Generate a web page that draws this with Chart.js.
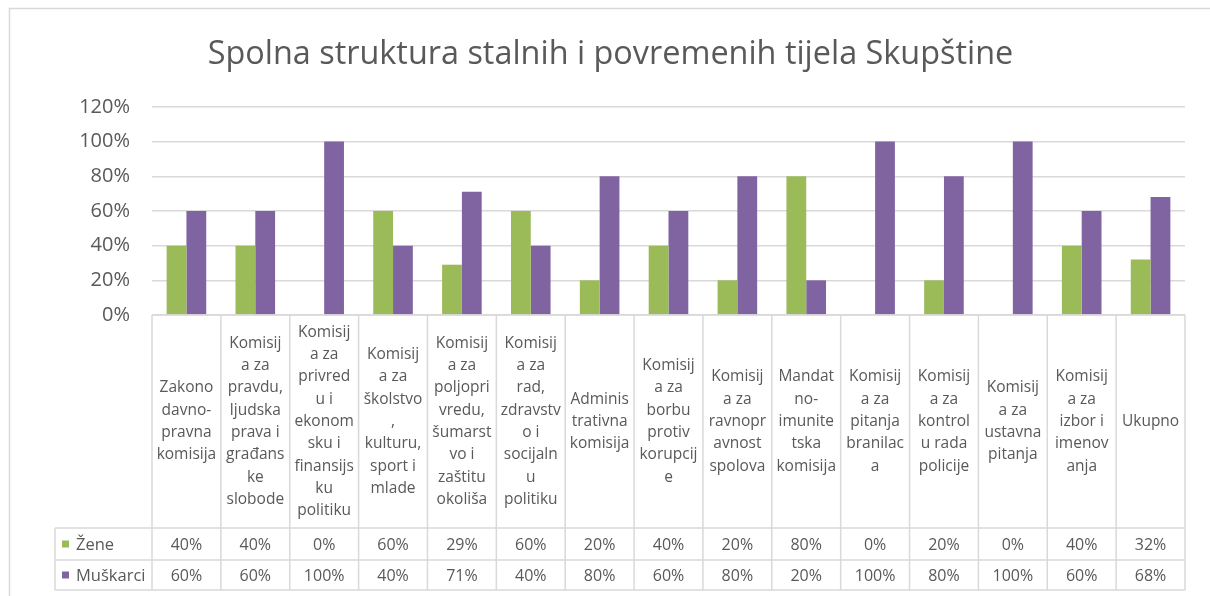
<!DOCTYPE html>
<html>
<head>
<meta charset="utf-8">
<script src="https://cdn.jsdelivr.net/npm/chart.js@4/dist/chart.umd.min.js"></script>
<style>
  body { margin: 0; background: #fff; }
  #wrap { width: 1210px; height: 596px; }
</style>
</head>
<body>
<div id="wrap"><canvas id="chart" width="1210" height="596"></canvas></div>
<script>
// category labels, already wrapped the way the table shows them
const categories = [
    ["Zakono", "davno-", "pravna", "komisija"],
    ["Komisij", "a za", "pravdu,", "ljudska", "prava i", "građans", "ke", "slobode"],
    ["Komisij", "a za", "privred", "u i", "ekonom", "sku i", "finansijs", "ku", "politiku"],
    ["Komisij", "a za", "školstvo", ",", "kulturu,", "sport i", "mlade"],
    ["Komisij", "a za", "poljopri", "vredu,", "šumarst", "vo i", "zaštitu", "okoliša"],
    ["Komisij", "a za", "rad,", "zdravstv", "o i", "socijaln", "u", "politiku"],
    ["Adminis", "trativna", "komisija"],
    ["Komisij", "a za", "borbu", "protiv", "korupcij", "e"],
    ["Komisij", "a za", "ravnopr", "avnost", "spolova"],
    ["Mandat", "no-", "imunite", "tska", "komisija"],
    ["Komisij", "a za", "pitanja", "branilac", "a"],
    ["Komisij", "a za", "kontrol", "u rada", "policije"],
    ["Komisij", "a za", "ustavna", "pitanja"],
    ["Komisij", "a za", "izbor i", "imenov", "anja"],
    ["Ukupno"]
];
const zene = [40, 40, 0, 60, 29, 60, 20, 40, 20, 80, 0, 20, 0, 40, 32];
const muskarci = [60, 60, 100, 40, 71, 40, 80, 60, 80, 20, 100, 80, 100, 60, 68];
const seriesNames = ["Žene", "Muškarci"];
const seriesColors = ["#9BBB59", "#8064A2"];
const yTicks = [0, 20, 40, 60, 80, 100, 120];

const FONT = "'Open Sans', sans-serif";
const GRID = "#d9d9d9";
const TEXT = "#595959";

// data table under the plot, drawn from the same scale as the bars
const dataTable = {
    id: "dataTable",
    afterDraw(chart) {
        const ctx = chart.ctx;
        const xs = chart.scales.x;
        const ca = chart.chartArea;
        const step = xs.getPixelForValue(1) - xs.getPixelForValue(0);
        const top = ca.bottom;
        const labelBottom = top + 213;
        const row1 = labelBottom + 32;
        const row2 = row1 + 30;
        const legendLeft = 55;
        const values = [zene, muskarci];

        ctx.save();
        // outer chart border
        ctx.strokeStyle = GRID;
        ctx.lineWidth = 1.5;
        ctx.beginPath();
        ctx.moveTo(9.5, 596);
        ctx.lineTo(9.5, 8.5);
        ctx.lineTo(1210, 8.5);
        ctx.stroke();

        // table grid
        ctx.beginPath();
        ctx.moveTo(ca.left, top);
        ctx.lineTo(ca.right, top);
        [labelBottom, row1, row2].forEach(yy => {
            ctx.moveTo(legendLeft, yy);
            ctx.lineTo(ca.right, yy);
        });
        for (let i = 0; i <= categories.length; i++) {
            const xx = xs.getPixelForValue(0) - step / 2 + i * step;
            ctx.moveTo(xx, top);
            ctx.lineTo(xx, row2);
        }
        ctx.moveTo(legendLeft, labelBottom);
        ctx.lineTo(legendLeft, row2);
        ctx.stroke();

        // category labels
        ctx.fillStyle = TEXT;
        ctx.textAlign = "center";
        ctx.textBaseline = "middle";
        ctx.font = "15.5px " + FONT;
        const lh = 22.3;
        const mid = (top + labelBottom) / 2;
        categories.forEach((lines, i) => {
            const cx = xs.getPixelForValue(i);
            const y0 = mid - (lines.length - 1) * lh / 2;
            lines.forEach((t, j) => ctx.fillText(t, cx, y0 + j * lh));
        });

        // value rows
        ctx.font = "16px " + FONT;
        const rowMids = [(labelBottom + row1) / 2, (row1 + row2) / 2];
        values.forEach((arr, r) => {
            arr.forEach((v, i) => {
                ctx.fillText(v + "%", xs.getPixelForValue(i), rowMids[r] + 1);
            });
        });

        // legend keys
        ctx.textAlign = "left";
        ctx.font = "16.5px " + FONT;
        seriesNames.forEach((name, r) => {
            ctx.fillStyle = seriesColors[r];
            ctx.fillRect(62, rowMids[r] - 3.5, 7, 7);
            ctx.fillStyle = TEXT;
            ctx.fillText(name, 76, rowMids[r] + 1);
        });
        ctx.restore();
    }
};

new Chart(document.getElementById("chart"), {
    type: "bar",
    data: {
        labels: categories,
        datasets: [
            { label: seriesNames[0], data: zene, backgroundColor: seriesColors[0] },
            { label: seriesNames[1], data: muskarci, backgroundColor: seriesColors[1] }
        ]
    },
    options: {
        responsive: false,
        animation: false,
        layout: { padding: { left: 36, right: 25, top: 0, bottom: 281 } },
        datasets: { bar: { categoryPercentage: 0.575, barPercentage: 1 } },
        plugins: {
            legend: { display: false },
            tooltip: { enabled: false },
            title: {
                display: true,
                text: "Spolna struktura stalnih i povremenih tijela Skupštine",
                color: TEXT,
                font: { family: FONT, size: 32.4, weight: "normal" },
                padding: { top: 35, bottom: 33 }
            }
        },
        scales: {
            x: { display: false },
            y: {
                min: 0,
                max: 120,
                afterBuildTicks: axis => { axis.ticks = yTicks.map(v => ({ value: v })); },
                afterFit: axis => { axis.width = 116; },
                border: { display: false },
                grid: { color: GRID, lineWidth: 1.5, drawTicks: false },
                ticks: {
                    color: TEXT,
                    padding: 22,
                    font: { family: FONT, size: 20 },
                    callback: v => v + "%"
                }
            }
        }
    },
    plugins: [dataTable]
});
</script>
</body>
</html>
